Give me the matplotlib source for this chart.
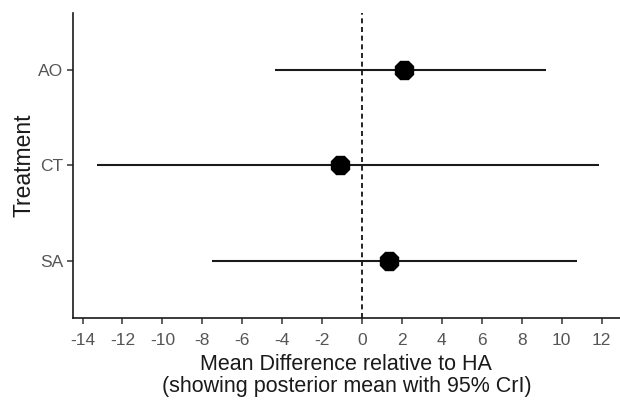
import matplotlib
matplotlib.use('Agg')
import matplotlib.pyplot as plt

# posterior means and 95% CrI relative to HA
treatments = ['AO', 'CT', 'SA']
means = [2.10, -1.09, 1.34]
lower = [-4.36, -13.27, -7.53]
upper = [9.20, 11.89, 10.75]
xticks = list(range(-14, 13, 2))

plt.rcParams['font.family'] = ['Liberation Sans', 'DejaVu Sans']
plt.rcParams['axes.unicode_minus'] = False

fig = plt.figure(figsize=(6.2, 4.03), dpi=100)
ax = fig.add_axes([0.1173, 0.211, 0.8827, 0.757])

# top category first, like ggplot's discrete axis
ypos = [len(treatments) - i for i in range(len(treatments))]

ax.axvline(0, color='black', linestyle=(0, (3, 2.2)), linewidth=1.2, zorder=1)
ax.hlines(ypos, lower, upper, color='#1a1a1a', linewidth=1.5, zorder=2)
ax.plot(means, ypos, linestyle='none', marker='8', markersize=14,
        color='black', zorder=3)

ax.set_xlim(-14.49, 12.92)
ax.set_ylim(0.4, 3.6)
ax.set_xticks(xticks)
ax.set_yticks(ypos)
ax.set_yticklabels(treatments)

for side in ['top', 'right']:
    ax.spines[side].set_visible(False)
for side in ['left', 'bottom']:
    ax.spines[side].set_linewidth(1.2)
    ax.spines[side].set_color('#1a1a1a')

ax.tick_params(axis='both', length=4, width=1.1, color='#333333',
               labelsize=12.5, labelcolor='#555555')
ax.tick_params(axis='x', pad=7)
ax.tick_params(axis='y', pad=3)

ax.set_xlabel('Mean Difference relative to HA\n(showing posterior mean with 95% CrI)',
              fontsize=15.5, color='#1a1a1a', labelpad=4, linespacing=1.05)
ax.set_ylabel('Treatment', fontsize=16.5, color='#1a1a1a', labelpad=2)

fig.savefig('out.png', dpi=100)
